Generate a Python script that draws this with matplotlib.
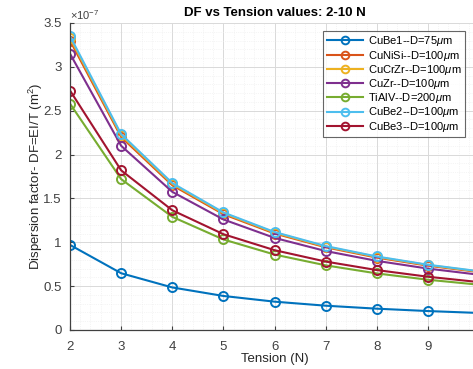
import matplotlib
matplotlib.use("Agg")
import matplotlib.pyplot as plt
from matplotlib.ticker import AutoMinorLocator, FuncFormatter, MultipleLocator

plt.rcParams['font.family'] = ['Liberation Sans', 'DejaVu Sans']
plt.rcParams['mathtext.fontset'] = 'custom'
plt.rcParams['mathtext.rm'] = 'Liberation Sans'
plt.rcParams['mathtext.it'] = 'Liberation Sans:italic'

# Tension values (N)
tension = [2, 3, 4, 5, 6, 7, 8, 9, 10]

# Dispersion factor values, in units of 1e-7 m^2
cube1 = [0.970, 0.647, 0.485, 0.388, 0.323, 0.277, 0.243, 0.216, 0.194]
cunisi = [3.300, 2.200, 1.650, 1.320, 1.100, 0.943, 0.825, 0.733, 0.660]
cucrzr = [3.330, 2.220, 1.665, 1.332, 1.110, 0.951, 0.833, 0.740, 0.666]
cuzr = [3.150, 2.100, 1.575, 1.260, 1.050, 0.900, 0.788, 0.700, 0.630]
tialv = [2.580, 1.720, 1.290, 1.032, 0.860, 0.737, 0.645, 0.573, 0.516]
cube2 = [3.350, 2.233, 1.675, 1.340, 1.117, 0.957, 0.838, 0.744, 0.670]
cube3 = [2.730, 1.820, 1.365, 1.092, 0.910, 0.780, 0.683, 0.607, 0.546]

labels = [r"CuBe1--D=75$\mu$m", r"CuNiSi--D=100$\mu$m", r"CuCrZr--D=100$\mu$m",
          r"CuZr--D=100$\mu$m", r"TiAlV--D=200$\mu$m", r"CuBe2--D=100$\mu$m",
          r"CuBe3--D=100$\mu$m"]
series = [cube1, cunisi, cucrzr, cuzr, tialv, cube2, cube3]
colors = ["#0072BD", "#D95319", "#EDB120", "#7E2F8E", "#77AC30", "#4DBEEE", "#A2142F"]

scale = 1e-7

fig = plt.figure(figsize=(4.73, 3.69), dpi=100)
ax = fig.add_axes([0.148, 0.1057, 0.865, 0.832])

for vals, lab, col in zip(series, labels, colors):
    ax.plot(tension, [v * scale for v in vals], color=col, lw=1.5, marker='o',
            markersize=6.5, markerfacecolor='none', markeredgewidth=1.4, label=lab)

ax.set_xlim(2, 10)
ax.set_ylim(0, 3.5e-7)
ax.xaxis.set_major_locator(MultipleLocator(1))
ax.yaxis.set_major_locator(MultipleLocator(0.5e-7))
ax.yaxis.set_major_formatter(FuncFormatter(lambda v, p: "%g" % round(v / scale, 3)))
ax.xaxis.set_minor_locator(AutoMinorLocator(5))
ax.yaxis.set_minor_locator(AutoMinorLocator(5))
ax.grid(which='major', color='#d9d9d9', lw=0.7)
ax.grid(which='minor', color='#ececec', lw=0.5, ls=':')
ax.set_axisbelow(True)
ax.tick_params(which='both', direction='in', colors='#404040', labelsize=9.5, length=3)
ax.tick_params(which='minor', length=0)
ax.tick_params(axis='y', pad=6)
ax.tick_params(axis='x', pad=8)
for s in ['top', 'right']:
    ax.spines[s].set_visible(False)
for s in ['left', 'bottom']:
    ax.spines[s].set_color('#404040')
    ax.spines[s].set_linewidth(0.9)

ax.text(0.0, 1.003, r"$\times10^{-7}$", transform=ax.transAxes, fontsize=8,
        color='#404040', ha='left', va='bottom')
ax.set_title("DF vs Tension values: 2-10 N", fontsize=9.5, fontweight='bold', pad=5)
ax.set_xlabel("Tension (N)", fontsize=9.5, color='#262626', labelpad=0)
ax.set_ylabel(r"Dispersion factor- DF=EI/T (m$^2$)", fontsize=9.5, color='#262626',
              labelpad=-1)

leg = ax.legend(loc='upper left', bbox_to_anchor=(0.619, 0.974), fontsize=8,
                frameon=True, fancybox=False, edgecolor='#404040', handlelength=3.3,
                labelspacing=0.02, borderpad=0.3, handletextpad=0.4, markerscale=0.85,
                borderaxespad=0)
leg.get_frame().set_linewidth(0.8)

fig.savefig("out.png", dpi=100)
